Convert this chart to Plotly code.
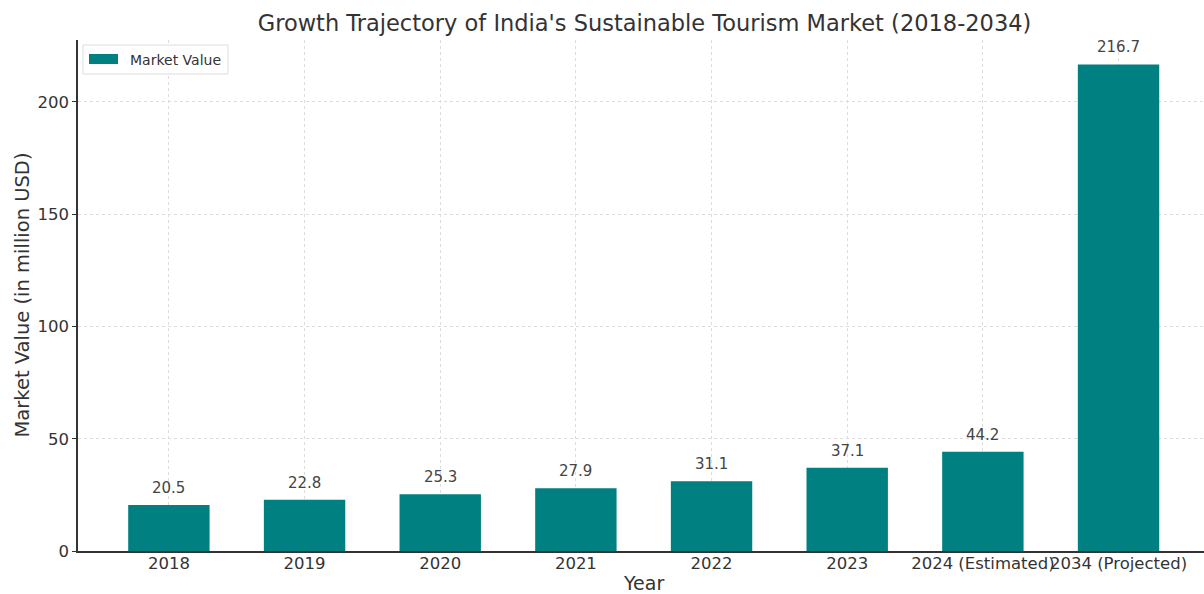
import plotly.graph_objects as go

categories = ["2018", "2019", "2020", "2021", "2022", "2023", "2024 (Estimated)", "2034 (Projected)"]
values = [20.5, 22.8, 25.3, 27.9, 31.1, 37.1, 44.2, 216.7]
labels = [f"{v:.1f}" for v in values]
y_ticks = [0, 50, 100, 150, 200]
series_name = "Market Value"

teal = "#008080"
font = "DejaVu Sans"
W, H = 1204, 594
L, R, T, B = 78, 0, 40, 43
PW, PH = W - L - R, H - T - B


def px(x):
    return (x - L) / PW


def py(y):
    return (H - B - y) / PH


fig = go.Figure()
fig.add_trace(go.Bar(
    x=list(range(len(categories))), y=values, width=0.6,
    marker=dict(color=teal, line=dict(width=0)),
    name=series_name, showlegend=False,
))

for i, (v, lab) in enumerate(zip(values, labels)):
    fig.add_annotation(x=i, y=v, text=lab, xref="x", yref="y", showarrow=False,
                       xanchor="center", yanchor="bottom", yshift=6,
                       font=dict(family=font, size=15, color="#444444"))

fig.update_layout(
    width=W, height=H,
    margin=dict(l=L, r=R, t=T, b=B),
    plot_bgcolor="white", paper_bgcolor="white",
    font=dict(family=font, color="#333333"),
    title=dict(text="Growth Trajectory of India's Sustainable Tourism Market (2018-2034)",
               x=(78 + 1211) / 2 / W, xanchor="center", y=1 - 23 / H, yanchor="middle",
               yref="container", font=dict(size=22.5, color="#333333", family=font)),
    showlegend=False,
)
fig.update_xaxes(
    range=[-0.67, 7.63], tickmode="array", tickvals=list(range(len(categories))),
    ticktext=categories, tickangle=0, tickfont=dict(size=16.5, color="#333333"),
    ticklabelstandoff=-4,
    showgrid=True, gridcolor="#dddddd", griddash="dot", gridwidth=1,
    showline=True, linecolor="#333333", linewidth=1.5,
    ticks="", zeroline=False,
)
fig.update_yaxes(
    range=[0, 227.6], tickmode="array", tickvals=y_ticks,
    tickfont=dict(size=16.5, color="#333333"),
    showgrid=True, gridcolor="#dddddd", griddash="dot", gridwidth=1,
    showline=True, linecolor="#333333", linewidth=1.5,
    ticks="outside", ticklen=4, tickcolor="#333333", zeroline=False,
)
fig.add_annotation(text="Year", xref="paper", yref="paper", x=px(643),
                   y=py(582.5), xanchor="center", yanchor="middle",
                   showarrow=False, font=dict(size=19, color="#333333", family=font))
fig.add_annotation(text="Market Value (in million USD)", xref="paper", yref="paper",
                   x=px(22), y=0.5, xanchor="center", yanchor="middle",
                   textangle=-90, showarrow=False,
                   font=dict(size=19.5, color="#333333", family=font))

# custom legend (wide swatch like the reference)
fig.add_shape(type="rect", xref="paper", yref="paper", x0=px(83), x1=px(228),
              y0=py(74), y1=py(45), fillcolor="rgba(255,255,255,0.85)",
              line=dict(color="#dddddd", width=1), layer="above")
fig.add_shape(type="rect", xref="paper", yref="paper", x0=px(89), x1=px(118),
              y0=py(64), y1=py(54), fillcolor=teal, line=dict(width=0), layer="above")
fig.add_annotation(text=series_name, xref="paper", yref="paper", x=px(128), y=py(59.5),
                   xanchor="left", yanchor="middle", showarrow=False,
                   font=dict(size=14, color="#333333", family=font))

fig.write_html("out.html")
